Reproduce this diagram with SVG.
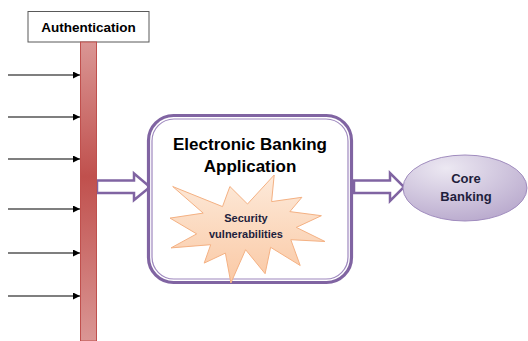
<svg xmlns="http://www.w3.org/2000/svg" width="528" height="341" viewBox="0 0 528 341">
<defs>
<linearGradient id="barGrad" x1="0" y1="0" x2="0" y2="1">
<stop offset="0" stop-color="#DA9694"/>
<stop offset="0.45" stop-color="#C0504D"/>
<stop offset="1" stop-color="#DA9694"/>
</linearGradient>
<linearGradient id="starGrad" x1="0" y1="0" x2="0" y2="1">
<stop offset="0" stop-color="#FDEADA"/>
<stop offset="1" stop-color="#FAC9A5"/>
</linearGradient>
<radialGradient id="ellGrad" cx="0.35" cy="0.2" r="0.9">
<stop offset="0" stop-color="#ECE8F2"/>
<stop offset="1" stop-color="#B6A6CB"/>
</radialGradient>
<marker id="arr" viewBox="0 0 10 10" refX="10" refY="5" markerWidth="7" markerHeight="7" markerUnits="userSpaceOnUse" orient="auto">
<path d="M0,0 L10,5 L0,10 z" fill="#000"/>
</marker>
<style>
.lbl{font-family:"Liberation Sans",Arial,sans-serif;font-weight:bold;text-anchor:middle}
.navy{fill:#1E1E3C}
.in{stroke:#000;stroke-width:1.2;fill:none;marker-end:url(#arr)}
.block{fill:#fff;stroke:#8064A2;stroke-width:2.5;stroke-linejoin:miter}
</style>
</defs>
<g id="connectors">
<line class="in" x1="8" y1="75" x2="80" y2="75"/>
<line class="in" x1="8" y1="117" x2="80" y2="117"/>
<line class="in" x1="8" y1="159" x2="80" y2="159"/>
<line class="in" x1="8" y1="209" x2="80" y2="209"/>
<line class="in" x1="8" y1="253" x2="80" y2="253"/>
<line class="in" x1="8" y1="296" x2="80" y2="296"/>
<path class="block" d="M97,180.5 H134 V173.5 L150,187 L134,200 V193 H97 z"/>
<path class="block" d="M354,180.5 H390 V173 L404,187 L390,201 V193 H354 z"/>
</g>
<g id="authentication">
<rect x="28" y="11.5" width="121" height="30.5" fill="#fff" stroke="#595959" stroke-width="1"/>
<text class="lbl" x="88.5" y="31.5" font-size="13.5" fill="#000">Authentication</text>
</g>
<g id="auth-bar">
<rect x="80.5" y="42" width="16" height="299" fill="url(#barGrad)" stroke="#C0504D" stroke-width="1"/>
</g>
<g id="app">
<rect x="148.5" y="115.5" width="203" height="167" rx="25" fill="#fff" stroke="#8064A2" stroke-width="3.2"/>
<rect x="152" y="119" width="196" height="160" rx="22" fill="none" stroke="#9E88BE" stroke-width="1.2"/>
<text class="lbl" x="250" y="150" font-size="17" fill="#000">Electronic Banking</text>
<text class="lbl" x="250" y="172" font-size="17" fill="#000">Application</text>
</g>
<g id="vulnerabilities">
<polygon points="247.5,204 274.2,175 271.6,201.6 301.9,197.3 289.9,211.6 321.4,215.7 296.3,227.4 325,241.5 290.8,239.7 300.2,265.5 270.6,247.3 265.1,273.7 245.6,249.7 230.9,283 225.4,253.1 204.2,263.1 210.7,244.7 171,247.9 196.7,233.9 170,218.1 203.2,213.1 172.7,186.5 222.5,206.6 229.9,186.5" fill="url(#starGrad)" stroke="#F4B183" stroke-width="1"/>
<text class="lbl navy" x="246" y="222" font-size="11">Security</text>
<text class="lbl navy" x="246" y="238" font-size="11">vulnerabilities</text>
</g>
<g id="core-banking">
<ellipse cx="465" cy="188" rx="62" ry="33" fill="url(#ellGrad)" stroke="#A08CBE" stroke-width="1"/>
<text class="lbl navy" x="466" y="183" font-size="13">Core</text>
<text class="lbl navy" x="466" y="201" font-size="13">Banking</text>
</g>
</svg>
